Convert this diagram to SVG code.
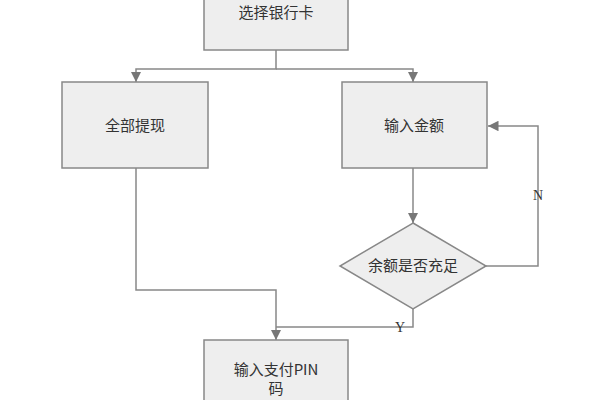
<svg xmlns="http://www.w3.org/2000/svg" width="600" height="400" viewBox="0 0 600 400">
<style>
.n{fill:#eeeeee;stroke:#888;stroke-width:1.5}
.c{fill:none;stroke:#888;stroke-width:1.5}
text{font-family:"Noto Sans CJK SC",sans-serif;font-size:15px;fill:#333;text-anchor:middle}
.l{font-family:"Liberation Serif",serif;font-size:14px}
</style>
<defs><linearGradient id="g" x1="0" y1="0" x2="0" y2="1"><stop offset="0" stop-color="#e8e8e8"/><stop offset="1" stop-color="#f8f8f8"/></linearGradient>
<marker id="a" viewBox="0 0 10 10" refX="10" refY="5" markerWidth="7" markerHeight="7" orient="auto"><path d="M0,0L10,5L0,10z" fill="#777"/></marker></defs>
<rect width="600" height="400" fill="#fff"/>
<g id="connectors">
<path class="c" d="M276,50V69H136V82" marker-end="url(#a)"/>
<path class="c" d="M276,69H413V82" marker-end="url(#a)"/>
<path class="c" d="M413,168V223" marker-end="url(#a)"/>
<path class="c" d="M486,266H538V126H488" marker-end="url(#a)"/>
<path class="c" d="M136,168V290H276V340" marker-end="url(#a)"/>
<path class="c" d="M413,309V327H276"/>
<text class="l" x="538" y="200">N</text>
<text class="l" x="400" y="332">Y</text>
</g>
<g id="n1"><rect class="n" fill="url(#g)" x="204" y="-5" width="144" height="55"/><text x="276" y="18">选择银行卡</text></g>
<g id="n2"><rect class="n" fill="url(#g)" x="62" y="82" width="146" height="86"/><text x="135" y="131">全部提现</text></g>
<g id="n3"><rect class="n" fill="url(#g)" x="342" y="82" width="145" height="86"/><text x="414" y="131">输入金额</text></g>
<g id="n4"><polygon class="n" fill="url(#g)" points="413,223 486,266 413,309 340,266"/><text x="413" y="271">余额是否充足</text></g>
<g id="n5"><rect class="n" fill="url(#g)" x="204" y="340" width="144" height="65"/><text x="276" y="375">输入支付PIN</text><text x="276" y="394">码</text></g>
</svg>
